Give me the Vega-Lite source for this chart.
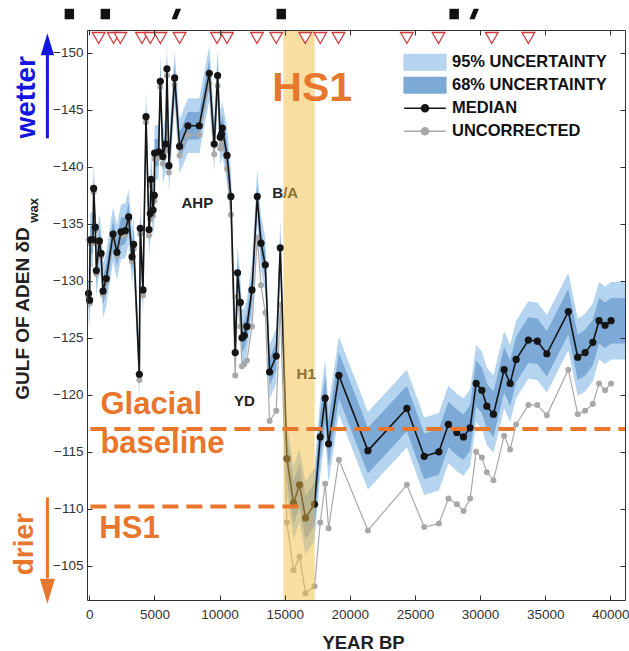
{
"$schema": "https://vega.github.io/schema/vega-lite/v6.json",
"width": 538, "height": 570,
"autosize": {"type": "none"},
"padding": {"left": 87, "top": 30, "right": 4, "bottom": 51},
"background": "white",
"config": {"view": {"stroke": null}, "font": "Liberation Sans"},
"datasets": {
"d": [
{"t":-60,"m":-128.9,"u":-128.6,"a":-131.3,"b":-126.5,"c":-130.1,"d":-127.7},
{"t":20,"m":-128.3,"u":-128.0,"a":-130.7,"b":-125.9,"c":-129.5,"d":-127.1},
{"t":60,"m":-133.6,"u":-133.3,"a":-136.0,"b":-131.2,"c":-134.8,"d":-132.4},
{"t":280,"m":-133.6,"u":-133.3,"a":-136.0,"b":-131.2,"c":-134.8,"d":-132.4},
{"t":330,"m":-138.1,"u":-137.8,"a":-140.5,"b":-135.7,"c":-139.3,"d":-136.9},
{"t":460,"m":-134.7,"u":-134.4,"a":-137.1,"b":-132.3,"c":-135.9,"d":-133.5},
{"t":540,"m":-130.9,"u":-130.6,"a":-133.3,"b":-128.5,"c":-132.1,"d":-129.7},
{"t":770,"m":-133.5,"u":-133.2,"a":-135.9,"b":-131.1,"c":-134.7,"d":-132.3},
{"t":900,"m":-132.4,"u":-132.1,"a":-134.8,"b":-130.0,"c":-133.6,"d":-131.2},
{"t":1050,"m":-129.1,"u":-128.8,"a":-131.5,"b":-126.7,"c":-130.3,"d":-127.9},
{"t":1300,"m":-130.2,"u":-129.9,"a":-132.6,"b":-127.8,"c":-131.4,"d":-129.0},
{"t":1820,"m":-134.1,"u":-133.8,"a":-136.5,"b":-131.7,"c":-135.3,"d":-132.9},
{"t":2120,"m":-132.5,"u":-132.2,"a":-134.9,"b":-130.1,"c":-133.7,"d":-131.3},
{"t":2430,"m":-134.3,"u":-134.0,"a":-136.7,"b":-131.9,"c":-135.5,"d":-133.1},
{"t":2760,"m":-134.4,"u":-134.0,"a":-136.8,"b":-132.0,"c":-135.6,"d":-133.2},
{"t":3020,"m":-135.6,"u":-135.2,"a":-138.0,"b":-133.2,"c":-136.8,"d":-134.4},
{"t":3280,"m":-132.1,"u":-131.7,"a":-134.5,"b":-129.7,"c":-133.3,"d":-130.9},
{"t":3400,"m":-133.2,"u":-132.8,"a":-135.6,"b":-130.8,"c":-134.4,"d":-132.0},
{"t":3840,"m":-121.8,"u":-121.3,"a":-124.2,"b":-119.4,"c":-123.0,"d":-120.6},
{"t":3910,"m":-134.6,"u":-134.1,"a":-137.0,"b":-132.2,"c":-135.8,"d":-133.4},
{"t":4120,"m":-129.2,"u":-128.7,"a":-131.6,"b":-126.8,"c":-130.4,"d":-128.0},
{"t":4350,"m":-144.4,"u":-143.9,"a":-146.8,"b":-142.0,"c":-145.6,"d":-143.2},
{"t":4580,"m":-134.5,"u":-134.0,"a":-136.9,"b":-132.1,"c":-135.7,"d":-133.3},
{"t":4680,"m":-135.9,"u":-135.4,"a":-138.3,"b":-133.5,"c":-137.1,"d":-134.7},
{"t":4730,"m":-138.9,"u":-138.4,"a":-141.3,"b":-136.5,"c":-140.1,"d":-137.7},
{"t":4890,"m":-136.2,"u":-135.7,"a":-138.6,"b":-133.8,"c":-137.4,"d":-135.0},
{"t":4990,"m":-137.5,"u":-137.0,"a":-139.9,"b":-135.1,"c":-138.7,"d":-136.3},
{"t":5010,"m":-141.2,"u":-140.7,"a":-143.6,"b":-138.8,"c":-142.4,"d":-140.0},
{"t":5320,"m":-141.3,"u":-140.8,"a":-143.7,"b":-138.9,"c":-142.5,"d":-140.1},
{"t":5450,"m":-147.5,"u":-147.0,"a":-149.9,"b":-145.1,"c":-148.7,"d":-146.3},
{"t":5650,"m":-140.9,"u":-140.3,"a":-143.3,"b":-138.5,"c":-142.1,"d":-139.7},
{"t":5860,"m":-142.0,"u":-141.4,"a":-144.4,"b":-139.6,"c":-143.2,"d":-140.8},
{"t":5960,"m":-148.6,"u":-148.0,"a":-151.0,"b":-146.2,"c":-149.8,"d":-147.4},
{"t":6110,"m":-140.1,"u":-139.5,"a":-142.5,"b":-137.7,"c":-141.3,"d":-138.9},
{"t":6550,"m":-147.8,"u":-147.2,"a":-150.2,"b":-145.4,"c":-149.0,"d":-146.6},
{"t":6930,"m":-141.8,"u":-141.0,"a":-144.2,"b":-139.4,"c":-143.0,"d":-140.6},
{"t":7570,"m":-143.6,"u":-142.8,"a":-146.0,"b":-141.2,"c":-144.8,"d":-142.4},
{"t":8440,"m":-143.6,"u":-142.8,"a":-146.0,"b":-141.2,"c":-144.8,"d":-142.4},
{"t":9210,"m":-148.2,"u":-147.3,"a":-150.6,"b":-145.8,"c":-149.4,"d":-147.0},
{"t":9590,"m":-142.0,"u":-141.1,"a":-144.4,"b":-139.6,"c":-143.2,"d":-140.8},
{"t":9850,"m":-148.0,"u":-147.1,"a":-150.4,"b":-145.6,"c":-149.2,"d":-146.8},
{"t":10050,"m":-142.6,"u":-141.6,"a":-145.0,"b":-140.2,"c":-143.8,"d":-141.4},
{"t":10150,"m":-142.9,"u":-141.9,"a":-145.3,"b":-140.5,"c":-144.1,"d":-141.7},
{"t":10210,"m":-143.4,"u":-142.3,"a":-145.8,"b":-141.0,"c":-144.6,"d":-142.2},
{"t":10570,"m":-141.0,"u":-139.8,"a":-143.4,"b":-138.6,"c":-142.2,"d":-139.8},
{"t":10870,"m":-137.4,"u":-135.8,"a":-139.8,"b":-135.0,"c":-138.6,"d":-136.2},
{"t":11200,"m":-123.7,"u":-121.7,"a":-126.1,"b":-121.3,"c":-124.9,"d":-122.5},
{"t":11380,"m":-130.7,"u":-128.6,"a":-133.1,"b":-128.3,"c":-131.9,"d":-129.5},
{"t":11590,"m":-128.1,"u":-126.0,"a":-130.5,"b":-125.7,"c":-129.3,"d":-126.9},
{"t":11720,"m":-125.0,"u":-122.5,"a":-127.4,"b":-122.6,"c":-126.2,"d":-123.8},
{"t":11900,"m":-125.2,"u":-122.7,"a":-127.6,"b":-122.8,"c":-126.4,"d":-124.0},
{"t":12100,"m":-126.0,"u":-123.0,"a":-128.4,"b":-123.6,"c":-127.2,"d":-124.8},
{"t":12490,"m":-129.2,"u":-126.0,"a":-131.6,"b":-126.8,"c":-130.4,"d":-128.0},
{"t":12890,"m":-137.4,"u":-133.8,"a":-139.8,"b":-135.0,"c":-138.6,"d":-136.2},
{"t":13180,"m":-133.3,"u":-129.6,"a":-135.7,"b":-130.9,"c":-134.5,"d":-132.1},
{"t":13510,"m":-131.4,"u":-127.2,"a":-133.8,"b":-129.0,"c":-132.6,"d":-130.2},
{"t":13840,"m":-122.0,"u":-117.7,"a":-124.4,"b":-119.6,"c":-123.2,"d":-120.8},
{"t":14350,"m":-123.4,"u":-118.6,"a":-125.8,"b":-121.0,"c":-124.6,"d":-122.2},
{"t":14660,"m":-132.9,"u":-127.9,"a":-135.3,"b":-130.5,"c":-134.1,"d":-131.7},
{"t":15170,"m":-114.4,"u":-108.8,"a":-117.6,"b":-111.2,"c":-116.3,"d":-112.5},
{"t":15680,"m":-110.5,"u":-104.6,"a":-113.7,"b":-107.3,"c":-112.4,"d":-108.6},
{"t":16140,"m":-112.1,"u":-105.8,"a":-115.3,"b":-108.9,"c":-114.0,"d":-110.2},
{"t":16600,"m":-109.2,"u":-102.6,"a":-112.4,"b":-106.0,"c":-111.1,"d":-107.3},
{"t":17290,"m":-110.4,"u":-103.2,"a":-113.6,"b":-107.2,"c":-112.3,"d":-108.5},
{"t":17730,"m":-116.3,"u":-108.8,"a":-119.7,"b":-112.9,"c":-118.3,"d":-114.3},
{"t":18110,"m":-119.7,"u":-112.2,"a":-123.1,"b":-116.3,"c":-121.7,"d":-117.7},
{"t":18370,"m":-115.7,"u":-108.3,"a":-119.1,"b":-112.3,"c":-117.7,"d":-113.7},
{"t":19160,"m":-121.7,"u":-114.3,"a":-125.1,"b":-118.3,"c":-123.7,"d":-119.7},
{"t":21390,"m":-115.1,"u":-108.1,"a":-118.5,"b":-111.7,"c":-117.1,"d":-113.1},
{"t":24380,"m":-118.8,"u":-112.1,"a":-122.2,"b":-115.4,"c":-120.8,"d":-116.8},
{"t":25710,"m":-114.6,"u":-108.4,"a":-118.0,"b":-111.2,"c":-116.6,"d":-112.6},
{"t":26840,"m":-115.0,"u":-108.7,"a":-118.4,"b":-111.6,"c":-117.0,"d":-113.0},
{"t":27570,"m":-117.4,"u":-110.9,"a":-120.8,"b":-114.0,"c":-119.4,"d":-115.4},
{"t":28220,"m":-116.7,"u":-110.4,"a":-120.1,"b":-113.3,"c":-118.7,"d":-114.7},
{"t":28730,"m":-116.3,"u":-109.8,"a":-119.7,"b":-112.9,"c":-118.3,"d":-114.3},
{"t":29240,"m":-117.1,"u":-110.9,"a":-120.5,"b":-113.7,"c":-119.1,"d":-115.1},
{"t":29700,"m":-121.0,"u":-115.0,"a":-124.4,"b":-117.6,"c":-123.0,"d":-119.0},
{"t":30140,"m":-120.4,"u":-114.5,"a":-123.8,"b":-117.0,"c":-122.4,"d":-118.4},
{"t":30520,"m":-119.0,"u":-113.2,"a":-122.4,"b":-115.6,"c":-121.0,"d":-117.0},
{"t":31030,"m":-118.3,"u":-112.5,"a":-121.7,"b":-114.9,"c":-120.3,"d":-116.3},
{"t":31850,"m":-122.2,"u":-116.4,"a":-125.6,"b":-118.8,"c":-124.2,"d":-120.2},
{"t":32310,"m":-121.0,"u":-115.2,"a":-124.4,"b":-117.6,"c":-123.0,"d":-119.0},
{"t":32770,"m":-123.1,"u":-117.4,"a":-126.5,"b":-119.7,"c":-125.1,"d":-121.1},
{"t":33710,"m":-124.8,"u":-119.1,"a":-128.2,"b":-121.4,"c":-126.8,"d":-122.8},
{"t":34400,"m":-124.7,"u":-119.1,"a":-128.1,"b":-121.3,"c":-126.7,"d":-122.7},
{"t":35130,"m":-123.6,"u":-118.2,"a":-127.0,"b":-120.2,"c":-125.6,"d":-121.6},
{"t":36780,"m":-127.3,"u":-122.2,"a":-130.7,"b":-123.9,"c":-129.3,"d":-125.3},
{"t":37500,"m":-123.3,"u":-118.3,"a":-126.7,"b":-119.9,"c":-125.3,"d":-121.3},
{"t":38070,"m":-123.7,"u":-118.6,"a":-127.1,"b":-120.3,"c":-125.7,"d":-121.7},
{"t":38660,"m":-124.6,"u":-119.2,"a":-128.0,"b":-121.2,"c":-126.6,"d":-122.6},
{"t":39140,"m":-126.5,"u":-121.0,"a":-129.9,"b":-123.1,"c":-128.5,"d":-124.5},
{"t":39600,"m":-126.1,"u":-120.4,"a":-129.5,"b":-122.7,"c":-128.1,"d":-124.1},
{"t":40060,"m":-126.5,"u":-121.0,"a":-129.9,"b":-123.1,"c":-128.5,"d":-124.5},
{"t":41130,"m":null,"u":null,"a":-129.9,"b":-123.1,"c":-128.5,"d":-124.5}
],
"tri": [{"t":715},{"t":1865},{"t":2380},{"t":4040},{"t":4680},{"t":5450},{"t":6930},{"t":9800},{"t":10570},{"t":12870},{"t":14350},{"t":16580},{"t":17730},{"t":19130},{"t":24380},{"t":26810},{"t":30900},{"t":33710}],
"sq": [{"t":-1535},{"t":1228},{"t":14735},{"t":28012}],
"sl": [{"t":6677},{"t":29547}]
},
"data": {"name": "d"},
"resolve": {"axis": {"x": "independent", "y": "independent"}},
"layer": [
{"mark": {"type": "area", "opacity": 1},
 "encoding": {
  "x": {"field": "t", "type": "quantitative", "scale": {"domain": [-180, 41130], "nice": false, "zero": false},
   "axis": {"orient": "bottom", "values": [0,5000,10000,15000,20000,25000,30000,35000,40000], "format": "d", "title": "YEAR BP", "titleFont": "Liberation Sans", "titleFontSize": 18.5, "titleFontWeight": "bold", "titleColor": "#222", "titleX": 276, "titleY": 48, "titleBaseline": "alphabetic", "titleAlign": "center", "labelFont": "Liberation Sans", "labelFontSize": 13.5, "labelColor": "#333", "labelPadding": 12, "tickSize": -5, "tickColor": "#333", "domainColor": "#333", "grid": false, "labelFlush": false, "labelOverlap": false, "zindex": 1}},
  "y": {"field": "a", "type": "quantitative", "scale": {"domain": [-152, -102], "reverse": true, "nice": false, "zero": false},
   "axis": {"orient": "left", "values": [-150,-145,-140,-135,-130,-125,-120,-115,-110,-105], "title": "GULF OF ADEN δD", "titleFont": "Liberation Sans", "titleFontSize": 19, "titleFontWeight": "bold", "titleColor": "#222", "titleX": -65, "titleY": 283, "titleAngle": 270, "titleAlign": "center", "titleBaseline": "middle", "labelFont": "Liberation Sans", "labelFontSize": 13.5, "labelColor": "#333", "labelPadding": 9, "tickSize": -5, "tickColor": "#333", "domainColor": "#333", "grid": false, "labelFlush": false, "labelOverlap": false, "zindex": 1}},
  "y2": {"field": "b"},
  "color": {"datum": "95% UNCERTAINTY", "type": "nominal",
   "scale": {"domain": ["95% UNCERTAINTY", "68% UNCERTAINTY", "MEDIAN", "UNCORRECTED"], "range": ["#b4d4ef", "#7ca9d6", "#151515", "#a8a8a8"]},
   "legend": {"orient": "none", "legendX": 316, "legendY": 21, "title": null, "padding": 0, "rowPadding": 0, "clipHeight": 22.5, "symbolSize": 1739, "symbolStrokeWidth": 1.5, "symbolOpacity": 1, "labelFont": "Liberation Sans", "labelFontSize": 16.5, "labelFontWeight": "bold", "labelColor": "#111", "labelOffset": 5, "labelLimit": 300,
    "encode": {"symbols": {"update": {
     "shape": {"signal": "datum.value == 'MEDIAN' || datum.value == 'UNCORRECTED' ? 'M-1,0H1M-0.17,0A0.17,0.17,0,1,1,0.17,0A0.17,0.17,0,1,1,-0.17,0Z' : 'M-1,-0.37H1V0.37H-1Z'"},
     "stroke": {"signal": "datum.value == 'MEDIAN' ? '#333333' : datum.value == 'UNCORRECTED' ? '#a8a8a8' : 'transparent'"},
     "fill": {"signal": "scale('color', datum.value)"},
     "opacity": {"value": 1}}}}}}
 }},
{"mark": {"type": "area", "opacity": 1},
 "encoding": {
  "x": {"field": "t", "type": "quantitative", "axis": {"orient": "top", "values": [0,5000,10000,15000,20000,25000,30000,35000,40000], "labels": false, "title": null, "tickSize": -5, "tickColor": "#333", "domainColor": "#333", "grid": false, "zindex": 1}},
  "y": {"field": "c", "type": "quantitative", "axis": {"orient": "right", "values": [-150,-145,-140,-135,-130,-125,-120,-115,-110,-105], "labels": false, "title": null, "tickSize": -5, "tickColor": "#333", "domainColor": "#333", "grid": false, "zindex": 1}},
  "y2": {"field": "d"},
  "color": {"datum": "68% UNCERTAINTY", "type": "nominal"}
 }},
{"mark": {"type": "line", "strokeWidth": 1.2},
 "encoding": {"x": {"field": "t", "type": "quantitative", "axis": null}, "y": {"field": "u", "type": "quantitative", "axis": null}, "color": {"datum": "UNCORRECTED", "type": "nominal"}}},
{"mark": {"type": "point", "filled": true, "size": 36, "opacity": 1},
 "encoding": {"x": {"field": "t", "type": "quantitative", "axis": null}, "y": {"field": "u", "type": "quantitative", "axis": null}, "color": {"datum": "UNCORRECTED", "type": "nominal"}}},
{"mark": {"type": "line", "strokeWidth": 1.6},
 "encoding": {"x": {"field": "t", "type": "quantitative", "axis": null}, "y": {"field": "m", "type": "quantitative", "axis": null}, "color": {"datum": "MEDIAN", "type": "nominal"}}},
{"mark": {"type": "point", "filled": true, "size": 52, "opacity": 1},
 "encoding": {"x": {"field": "t", "type": "quantitative", "axis": null}, "y": {"field": "m", "type": "quantitative", "axis": null}, "color": {"datum": "MEDIAN", "type": "nominal"}}},
{"data": {"values": [{}]}, "mark": {"type": "text", "text": "AHP", "font": "Liberation Sans", "fontSize": 15, "fontWeight": "bold", "color": "#222", "align": "center", "baseline": "alphabetic"},
 "encoding": {"x": {"datum": 8290, "axis": null}, "y": {"datum": -136.4, "axis": null}}},
{"data": {"values": [{}]}, "mark": {"type": "text", "text": "B/A", "font": "Liberation Sans", "fontSize": 15, "fontWeight": "bold", "color": "#222", "align": "center", "baseline": "alphabetic"},
 "encoding": {"x": {"datum": 15040, "axis": null}, "y": {"datum": -137.3, "axis": null}}},
{"data": {"values": [{}]}, "mark": {"type": "text", "text": "YD", "font": "Liberation Sans", "fontSize": 15, "fontWeight": "bold", "color": "#222", "align": "center", "baseline": "alphabetic"},
 "encoding": {"x": {"datum": 11900, "axis": null}, "y": {"datum": -119.05, "axis": null}}},
{"data": {"values": [{}]}, "mark": {"type": "text", "text": "H1", "font": "Liberation Sans", "fontSize": 15, "fontWeight": "bold", "color": "#222", "align": "center", "baseline": "alphabetic"},
 "encoding": {"x": {"datum": 16650, "axis": null}, "y": {"datum": -121.4, "axis": null}}},
{"data": {"values": [{}]}, "mark": {"type": "rect", "color": "#f3bd45", "opacity": 0.5},
 "encoding": {"x": {"datum": 14900, "axis": null}, "x2": {"datum": 17300}, "y": {"datum": -152, "axis": null}, "y2": {"datum": -102}}},
{"data": {"values": [{}]}, "mark": {"type": "rule", "color": "#e8762c", "strokeWidth": 4, "strokeDash": [16, 8]},
 "encoding": {"x": {"datum": 80, "axis": null}, "x2": {"datum": 41130}, "y": {"datum": -117.0, "axis": null}}},
{"data": {"values": [{}]}, "mark": {"type": "rule", "color": "#e8762c", "strokeWidth": 4, "strokeDash": [16, 8]},
 "encoding": {"x": {"datum": 80, "axis": null}, "x2": {"datum": 16600}, "y": {"datum": -110.2, "axis": null}}},
{"data": {"values": [{}]}, "mark": {"type": "text", "text": "HS1", "font": "Liberation Sans", "fontSize": 41, "fontWeight": "bold", "color": "#e8762c", "align": "center", "baseline": "middle"},
 "encoding": {"x": {"datum": 17110, "axis": null}, "y": {"datum": -146.8, "axis": null}}},
{"data": {"values": [{}]}, "mark": {"type": "text", "text": "Glacial", "font": "Liberation Sans", "fontSize": 31, "fontWeight": "bold", "color": "#e8762c", "align": "left", "baseline": "alphabetic"},
 "encoding": {"x": {"datum": 850, "axis": null}, "y": {"datum": -118.3, "axis": null}}},
{"data": {"values": [{}]}, "mark": {"type": "text", "text": "baseline", "font": "Liberation Sans", "fontSize": 31, "fontWeight": "bold", "color": "#e8762c", "align": "left", "baseline": "alphabetic"},
 "encoding": {"x": {"datum": 850, "axis": null}, "y": {"datum": -114.9, "axis": null}}},
{"data": {"values": [{}]}, "mark": {"type": "text", "text": "HS1", "font": "Liberation Sans", "fontSize": 31, "fontWeight": "bold", "color": "#e8762c", "align": "left", "baseline": "alphabetic"},
 "encoding": {"x": {"datum": 770, "axis": null}, "y": {"datum": -107.4, "axis": null}}},
{"data": {"name": "tri"}, "mark": {"type": "point", "shape": "triangle-down", "size": 160, "filled": true, "fill": "#ffffff", "stroke": "#d03a3a", "strokeWidth": 1.3, "opacity": 1},
 "encoding": {"x": {"field": "t", "type": "quantitative", "axis": null}, "y": {"datum": -151.3, "axis": null}}},
{"data": {"name": "sq"}, "mark": {"type": "point", "shape": "M-0.9,-1H0.9V1H-0.9Z", "size": 110, "filled": true, "color": "#111", "opacity": 1},
 "encoding": {"x": {"field": "t", "type": "quantitative", "axis": null}, "y": {"datum": -153.4, "axis": null}}},
{"data": {"name": "sl"}, "mark": {"type": "point", "shape": "M-0.1,-1L0.9,-1L0.1,1L-0.9,1Z", "size": 110, "filled": true, "color": "#111", "opacity": 1},
 "encoding": {"x": {"field": "t", "type": "quantitative", "axis": null}, "y": {"datum": -153.4, "axis": null}}},
{"data": {"values": [{}]}, "mark": {"type": "rule", "color": "#1515e0", "strokeWidth": 3},
 "encoding": {"x": {"datum": -3220, "axis": null}, "y": {"datum": -142.5, "axis": null}, "y2": {"datum": -149.8}}},
{"data": {"values": [{}]}, "mark": {"type": "point", "shape": "M0,-1L-0.6,1L0.6,1Z", "size": 484, "filled": true, "color": "#1515e0", "opacity": 1},
 "encoding": {"x": {"datum": -3220, "axis": null}, "y": {"datum": -150.76, "axis": null}}},
{"data": {"values": [{}]}, "mark": {"type": "rule", "color": "#e8762c", "strokeWidth": 3},
 "encoding": {"x": {"datum": -3220, "axis": null}, "y": {"datum": -111.0, "axis": null}, "y2": {"datum": -103.9}}},
{"data": {"values": [{}]}, "mark": {"type": "point", "shape": "M0,1L-0.6,-1L0.6,-1Z", "size": 625, "filled": true, "color": "#e8762c", "opacity": 1},
 "encoding": {"x": {"datum": -3220, "axis": null}, "y": {"datum": -102.76, "axis": null}}},
{"data": {"values": [{}]}, "mark": {"type": "text", "text": "wetter", "angle": 270, "font": "Liberation Sans", "fontSize": 28, "fontWeight": "bold", "color": "#1515e0", "align": "center", "baseline": "middle"},
 "encoding": {"x": {"datum": -4800, "axis": null}, "y": {"datum": -146.1, "axis": null}}},
{"data": {"values": [{}]}, "mark": {"type": "text", "text": "drier", "angle": 270, "font": "Liberation Sans", "fontSize": 28, "fontWeight": "bold", "color": "#e8762c", "align": "center", "baseline": "middle"},
 "encoding": {"x": {"datum": -4910, "axis": null}, "y": {"datum": -106.9, "axis": null}}},
{"data": {"values": [{}]}, "mark": {"type": "text", "text": "wax", "angle": 270, "font": "Liberation Sans", "fontSize": 13, "fontWeight": "bold", "color": "#222", "align": "left", "baseline": "middle"},
 "encoding": {"x": {"datum": -4220, "axis": null}, "y": {"datum": -135.1, "axis": null}}}
]
}
